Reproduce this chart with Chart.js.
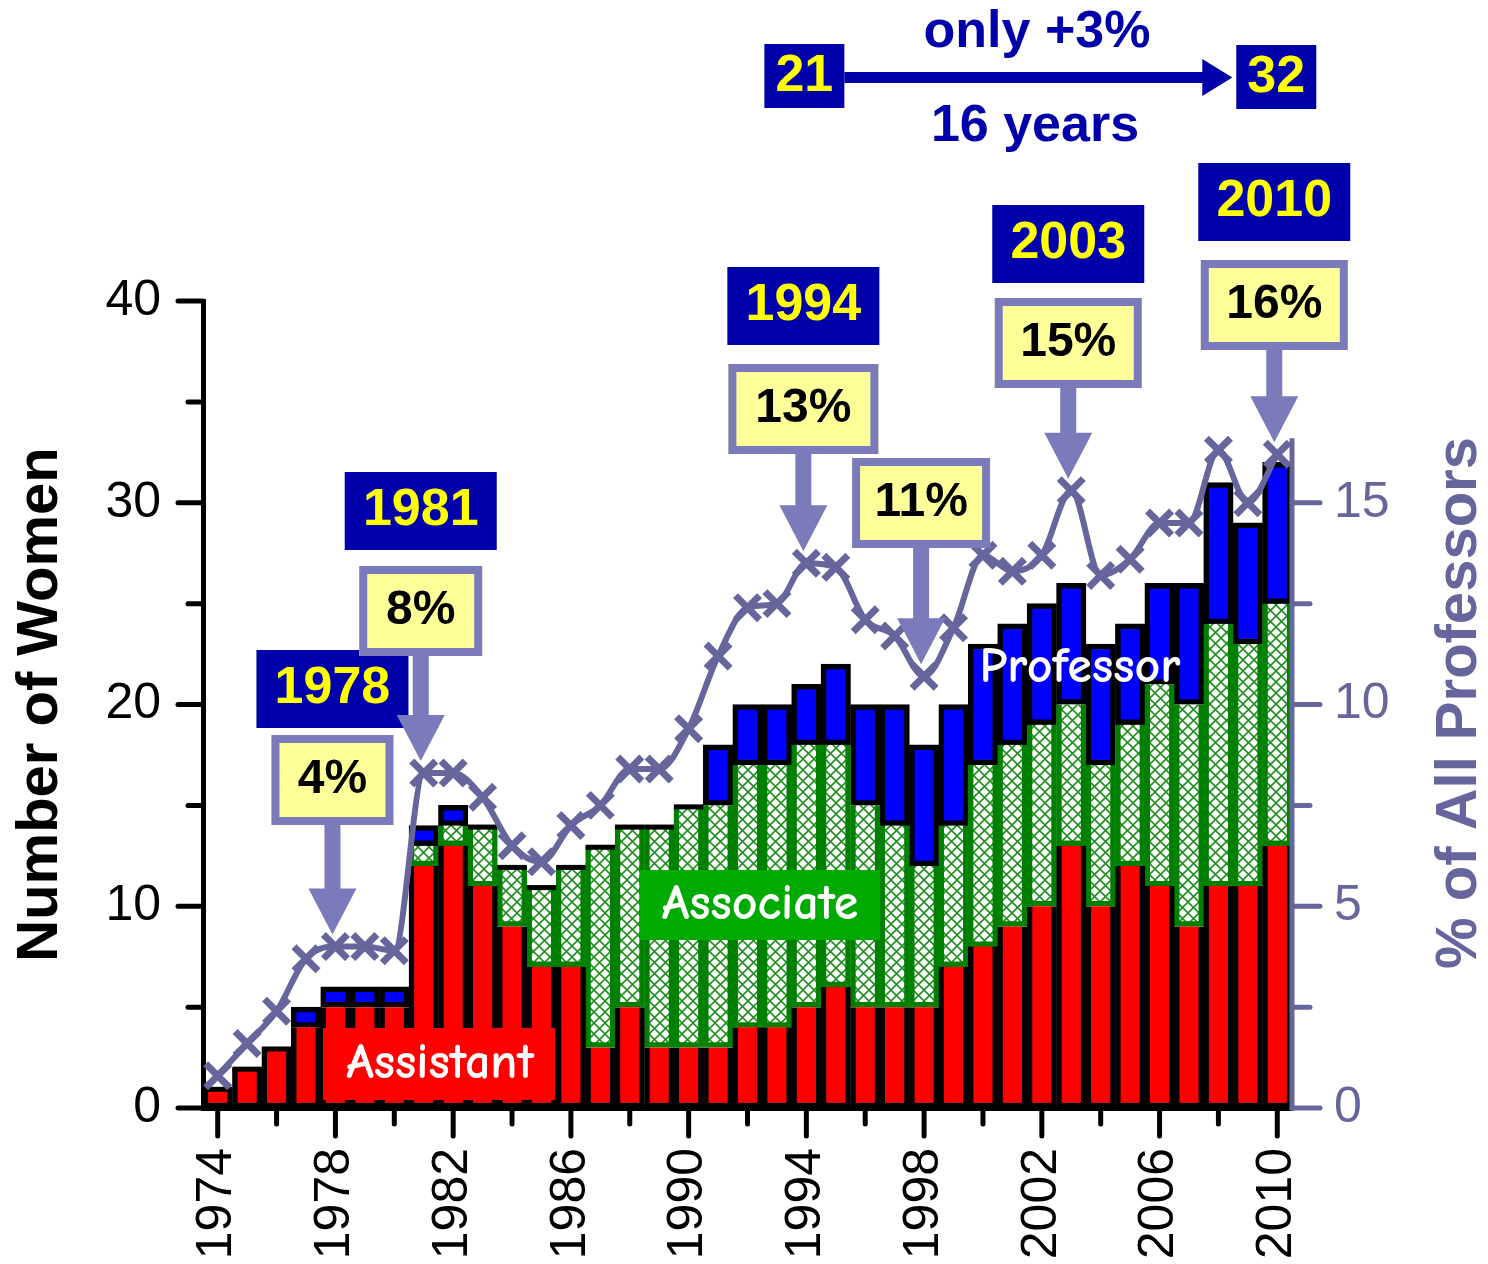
<!DOCTYPE html>
<html lang="en">
<head>
<meta charset="UTF-8">
<title>Women Professors 1974-2010</title>
<script src="https://cdn.jsdelivr.net/npm/chart.js"></script>
<style>
  body { margin: 0; background: #fff; }
  canvas { display: block; }
</style>
</head>
<body>
<canvas id="chart" width="1488" height="1264"></canvas>
<script>
// data
const years = [1974, 1975, 1976, 1977, 1978, 1979, 1980, 1981, 1982, 1983, 1984, 1985, 1986, 1987, 1988, 1989, 1990, 1991, 1992,
  1993, 1994, 1995, 1996, 1997, 1998, 1999, 2000, 2001, 2002, 2003, 2004, 2005, 2006, 2007, 2008, 2009, 2010];
const assistant = [1, 2, 3, 4, 5, 5, 5, 12, 13, 11, 9, 7, 7, 3, 5, 3, 3, 3, 4, 4, 5, 6, 5, 5, 5, 7, 8, 9, 10, 13, 10, 12, 11, 9, 11, 11, 13];
const associate = [0, 0, 0, 0, 0, 0, 0, 1, 1, 3, 3, 4, 5, 10, 9, 11, 12, 12, 13, 13, 13, 12, 10, 9, 7, 7, 9, 9, 9, 7, 7, 7, 10, 11, 13, 12, 12];
const professor = [0, 0, 0, 1, 1, 1, 1, 1, 1, 0, 0, 0, 0, 0, 0, 0, 0, 3, 3, 3, 3, 4, 5, 6, 6, 6, 6, 6, 6, 6, 6, 5, 5, 6, 7, 6, 7];
const pctAll = [0.8, 1.6, 2.4, 3.7, 4.0, 4.0, 3.9, 8.3, 8.3, 7.7, 6.5, 6.1, 7.0, 7.5, 8.4, 8.4, 9.4, 11.2, 12.4, 12.5, 13.5, 13.4,
  12.1, 11.7, 10.7, 11.9, 13.7, 13.3, 13.7, 15.3, 13.2, 13.6, 14.5, 14.5, 16.3, 15.0, 16.2];

// callouts: year, label, widths
const callouts = [
  { year: 1978, label: '4%', yearTop: 650, boxTop: 735, boxW: 122 },
  { year: 1981, label: '8%', yearTop: 472, boxTop: 566, boxW: 123 },
  { year: 1994, label: '13%', yearTop: 267, boxTop: 364, boxW: 150 },
  { year: 1998, label: '11%', yearTop: null, boxTop: 458, boxW: 138 },
  { year: 2003, label: '15%', yearTop: 205, boxTop: 298, boxW: 147 },
  { year: 2010, label: '16%', yearTop: 163, boxTop: 260, boxW: 147 }
];

const SANS = '"Liberation Sans", Arial, sans-serif';
const COMIC = '"Comic Sans MS", "Comic Neue", Lato, sans-serif';
const SLATE = '#66669c';
const LAV = '#7b7bbb';
const NAVY = '#0000aa';

function hatch() {
  const c = document.createElement('canvas');
  c.width = c.height = 11;
  const g = c.getContext('2d');
  g.fillStyle = '#fff';
  g.fillRect(0, 0, 11, 11);
  g.strokeStyle = '#229022';
  g.lineWidth = 1.6;
  g.beginPath();
  g.moveTo(0, 0); g.lineTo(11, 11);
  g.moveTo(11, 0); g.lineTo(0, 11);
  g.stroke();
  return g.createPattern(c, 'repeat');
}

function txt(ctx, s, x, y, font, color) {
  ctx.font = font;
  ctx.fillStyle = color;
  ctx.textAlign = 'center';
  ctx.textBaseline = 'middle';
  ctx.fillText(s, x, y);
}

function arrowDown(ctx, x, y0, tip) {
  ctx.fillStyle = LAV;
  ctx.fillRect(x - 8, y0, 16, tip - 46 - y0 + 1);
  ctx.beginPath();
  ctx.moveTo(x - 24, tip - 46);
  ctx.lineTo(x + 24, tip - 46);
  ctx.lineTo(x, tip);
  ctx.closePath();
  ctx.fill();
}

const decor = {
  id: 'decor',
  afterDatasetDraw(chart, args) {
    if (args.index !== 0) return;
    const { ctx, scales: { x, y } } = chart;
    const w = chart.getDatasetMeta(0).data[0].width;
    ctx.save();
    // black cap where there is no professor segment
    ctx.fillStyle = '#000';
    years.forEach((yr, i) => {
      if (professor[i] !== 0) return;
      const top = y.getPixelForValue(assistant[i] + associate[i]);
      const cx = x.getPixelForValue(i);
      ctx.fillRect(cx - w / 2, top - 1, w, 5);
    });
    // rank labels
    ctx.fillStyle = '#ff0000';
    ctx.fillRect(323, 1028, 232, 72);
    txt(ctx, 'Assistant', 440, 1064, 'bold 50px ' + COMIC, '#fff');
    ctx.fillStyle = '#00aa00';
    ctx.fillRect(640, 870, 240, 70);
    txt(ctx, 'Associate', 760, 905, 'bold 50px ' + COMIC, '#fff');
    txt(ctx, 'Professor', 1080, 668, 'bold 50px ' + COMIC, '#fff');
    ctx.restore();
  },
  afterDraw(chart) {
    const { ctx, chartArea: a, scales: { x, y, y2 } } = chart;
    ctx.save();
    ctx.lineCap = 'round';
    // left ticks
    ctx.strokeStyle = '#000';
    ctx.lineWidth = 5;
    for (let v = 0; v <= 40; v += 5) {
      const py = y.getPixelForValue(v);
      const len = v % 10 === 0 ? 25 : 15;
      ctx.beginPath(); ctx.moveTo(a.left - len, py); ctx.lineTo(a.left, py); ctx.stroke();
    }
    // bottom ticks
    years.forEach((yr, i) => {
      if ((yr - 1974) % 2) return;
      const px = x.getPixelForValue(i);
      const len = (yr - 1974) % 4 === 0 ? 28 : 16;
      ctx.beginPath(); ctx.moveTo(px, a.bottom); ctx.lineTo(px, a.bottom + len); ctx.stroke();
    });
    // right axis
    ctx.strokeStyle = SLATE;
    ctx.lineCap = 'butt';
    ctx.beginPath(); ctx.moveTo(a.right, y2.getPixelForValue(16.6)); ctx.lineTo(a.right, a.bottom + 2.5); ctx.stroke();
    ctx.lineCap = 'round';
    for (let v = 0; v <= 15; v += 2.5) {
      const py = y2.getPixelForValue(v);
      const len = v % 5 === 0 ? 28 : 18;
      ctx.beginPath(); ctx.moveTo(a.right, py); ctx.lineTo(a.right + len, py); ctx.stroke();
    }
    // right title
    ctx.save();
    ctx.translate(1460, 703);
    ctx.rotate(-Math.PI / 2);
    txt(ctx, '% of All Professors', 0, 0, 'bold 58px ' + SANS, SLATE);
    ctx.restore();

    // callouts
    callouts.forEach(c => {
      const i = years.indexOf(c.year);
      const cx = x.getPixelForValue(i) - 3;
      const tip = y2.getPixelForValue(pctAll[i]) - 12;
      if (c.yearTop !== null) {
        ctx.fillStyle = NAVY;
        ctx.fillRect(cx - 76, c.yearTop, 152, 78);
        txt(ctx, String(c.year), cx, c.yearTop + 39, 'bold 52px ' + SANS, '#ffff00');
      }
      const bh = 90;
      arrowDown(ctx, cx, c.boxTop + bh - 2, tip);
      ctx.fillStyle = '#ffff99';
      ctx.fillRect(cx - c.boxW / 2, c.boxTop, c.boxW, bh);
      ctx.strokeStyle = LAV;
      ctx.lineWidth = 8;
      ctx.strokeRect(cx - c.boxW / 2 + 4, c.boxTop + 4, c.boxW - 8, bh - 8);
      txt(ctx, c.label, cx, c.boxTop + bh / 2, 'bold 48px ' + SANS, '#000');
    });

    // top note: 21 -> 32 over 16 years
    const i0 = years.indexOf(1994), i1 = years.indexOf(2010);
    const x0 = x.getPixelForValue(i0) - 2, x1 = x.getPixelForValue(i1) - 1;
    const t0 = assistant[i0] + associate[i0] + professor[i0];
    const t1 = assistant[i1] + associate[i1] + professor[i1];
    ctx.fillStyle = NAVY;
    ctx.fillRect(x0 - 40, 44, 80, 64);
    ctx.fillRect(x1 - 40, 45, 80, 64);
    ctx.fillRect(x0 + 40, 72, x1 - x0 - 112, 11);
    ctx.beginPath();
    ctx.moveTo(x1 - 74, 59); ctx.lineTo(x1 - 44, 77.5); ctx.lineTo(x1 - 74, 96);
    ctx.closePath(); ctx.fill();
    txt(ctx, String(t0), x0, 77, 'bold 52px ' + SANS, '#ffff00');
    txt(ctx, String(t1), x1, 78, 'bold 52px ' + SANS, '#ffff00');
    txt(ctx, 'only +3%', 1037, 33, 'bold 52px ' + SANS, NAVY);
    txt(ctx, '16 years', 1035, 127, 'bold 52px ' + SANS, NAVY);
    ctx.restore();
  }
};

const ctx = document.getElementById('chart').getContext('2d');
new Chart(ctx, {
  type: 'bar',
  data: {
    labels: years.map(String),
    datasets: [
      {
        label: 'Assistant', data: assistant, backgroundColor: '#ff0000', borderColor: '#000',
        borderWidth: 5.5, borderSkipped: 'end', order: 1
      },
      {
        label: 'Associate', data: associate, backgroundColor: hatch(), borderColor: '#008000',
        borderWidth: 5.5, borderSkipped: 'end', order: 1
      },
      {
        label: 'Professor', data: professor, backgroundColor: '#0000ff', borderColor: '#000',
        borderWidth: 5.5, borderSkipped: false, order: 1
      },
      {
        type: 'line', label: '% of All Professors', data: pctAll, yAxisID: 'y2', order: 0,
        borderColor: SLATE, borderWidth: 6, cubicInterpolationMode: 'monotone',
        pointStyle: 'crossRot', pointRadius: 17, pointBorderWidth: 7,
        pointBorderColor: SLATE, pointBackgroundColor: SLATE
      }
    ]
  },
  options: {
    responsive: false,
    devicePixelRatio: 1,
    animation: false,
    layout: { padding: { top: 301, left: 0, right: 0, bottom: 0 } },
    datasets: { bar: { barPercentage: 1, categoryPercentage: 1 } },
    plugins: { legend: { display: false }, tooltip: { enabled: false } },
    scales: {
      x: {
        stacked: true,
        grid: { display: false, drawTicks: false },
        border: { color: '#000', width: 5 },
        ticks: {
          autoSkip: false, minRotation: 90, maxRotation: 90, padding: 40,
          color: '#000', font: { family: SANS, size: 50 },
          callback: (v, i) => (years[i] - 1974) % 4 === 0 ? String(years[i]) : ''
        },
        afterFit: s => { s.height = 156; }
      },
      y: {
        stacked: true, min: 0, max: 40,
        grid: { display: false, drawTicks: false },
        border: { color: '#000', width: 5 },
        ticks: {
          stepSize: 5, padding: 42, color: '#000', font: { family: SANS, size: 50 },
          callback: v => v % 10 === 0 ? String(v) : ''
        },
        title: {
          display: true, text: 'Number of Women', color: '#000', padding: { top: 12, bottom: 0 },
          font: { family: SANS, size: 58, weight: 'bold', lineHeight: 1 }
        },
        afterFit: s => { s.width = 203; }
      },
      y2: {
        position: 'right', min: 0, max: 20,
        grid: { display: false, drawTicks: false },
        border: { display: false },
        ticks: {
          stepSize: 2.5, padding: 42, color: SLATE, font: { family: SANS, size: 50 },
          callback: v => (v % 5 === 0 && v <= 15) ? String(v) : ''
        },
        afterFit: s => { s.width = 196; }
      }
    }
  },
  plugins: [decor]
});
</script>
</body>
</html>
